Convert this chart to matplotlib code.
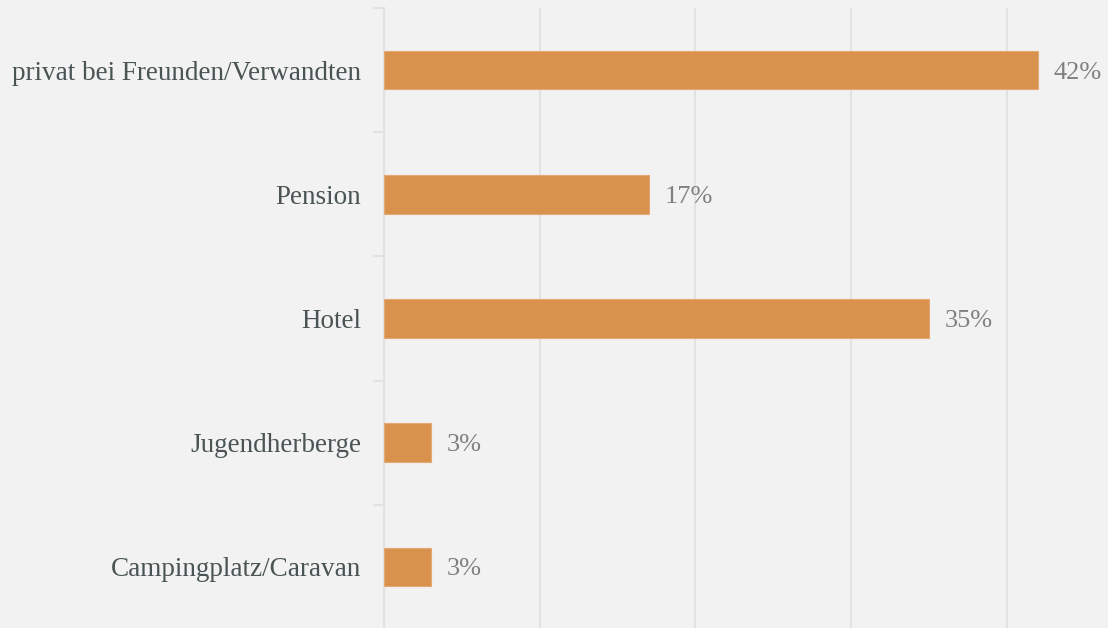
import matplotlib
matplotlib.use("Agg")
import matplotlib.pyplot as plt

categories = ["privat bei Freunden/Verwandten", "Pension", "Hotel",
              "Jugendherberge", "Campingplatz/Caravan"]
values = [42, 17, 35, 3, 3]
value_labels = ["42%", "17%", "35%", "3%", "3%"]

plt.rcParams['font.family'] = ['Liberation Serif', 'DejaVu Serif']

bg = "#f2f2f2"
fig = plt.figure(figsize=(11.08, 6.28), dpi=100, facecolor=bg)
ax = fig.add_axes([384 / 1108, -1 / 628, 1 - 384 / 1108, 621 / 628])
ax.set_facecolor(bg)

n = len(categories)
ypos = list(range(n))
ax.barh(ypos, values, height=0.31, color="#d9924e", edgecolor="#e4a872",
        linewidth=0.8, zorder=3)
for y, v, lab in zip(ypos, values, value_labels):
    ax.text(v + 1.0, y + 0.02, lab, va="center", ha="left", fontsize=19,
            color="#808080")

ax.set_xlim(0, 46.5)
ax.set_ylim(n - 0.5, -0.5)
ax.set_xticks([0, 10, 20, 30, 40])
ax.xaxis.grid(True, color="#e2e2e2", linewidth=1.5, zorder=0)
ax.tick_params(axis="x", length=0, labelbottom=False)

ax.set_yticks(ypos)
ax.set_yticklabels(categories, fontsize=19.5, color="#4a5455")
ax.tick_params(axis="y", which="major", length=0, pad=16.5)
ax.set_yticks([i - 0.5 for i in range(n + 1)], minor=True)
ax.tick_params(axis="y", which="minor", length=8, width=1.5, color="#e2e2e2")

for s in ["top", "right", "bottom"]:
    ax.spines[s].set_visible(False)
ax.spines["left"].set_color("#e2e2e2")
ax.spines["left"].set_linewidth(1.5)

fig.savefig("out.png", dpi=100, facecolor=bg)
